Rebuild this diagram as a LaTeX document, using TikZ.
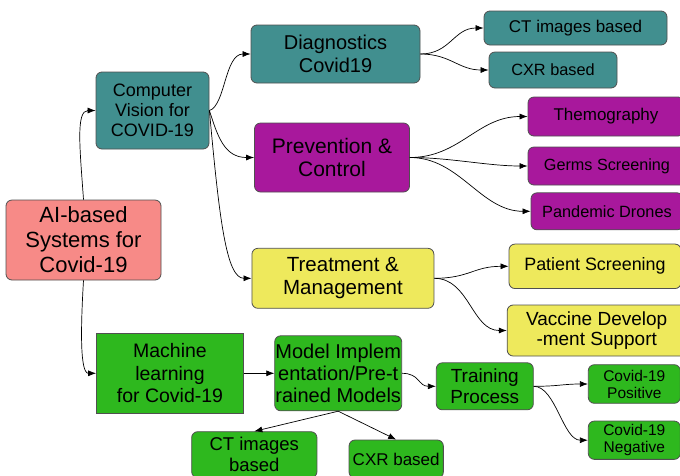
\documentclass[tikz,border=0pt]{standalone}
\usepackage{fontspec}
\setmainfont{Liberation Sans}
\usetikzlibrary{arrows.meta}
\definecolor{teal1}{HTML}{418F8F}
\definecolor{purp1}{HTML}{A8189C}
\definecolor{yell1}{HTML}{EEE95C}
\definecolor{gree1}{HTML}{2EB81E}
\definecolor{salm1}{HTML}{F78A87}
\definecolor{bordc}{HTML}{505050}
\tikzset{
  box/.style={draw=bordc, line width=0.8pt, rounded corners=6pt, align=center, inner sep=0pt, text=black},
  sqbox/.style={box, rounded corners=0pt},
  fs/.style 2 args={font=\fontsize{#1}{#2}\selectfont},
  arr/.style={-{Latex[length=8pt,width=6pt]}, line width=0.7pt, black},
}
\begin{document}
\begin{tikzpicture}[x=1pt,y=-1pt]
\useasboundingbox (0,0) rectangle (680,475);
\fill[white] (0,0) rectangle (680,475);
\clip (0,0) rectangle (680,475);

\node[box, fill=salm1, minimum width=155pt, minimum height=80pt, fs={22}{25}] (ai) at (83.5,240) {AI-based\\Systems for\\Covid-19};
\node[box, fill=teal1, minimum width=113pt, minimum height=77pt, fs={18}{20}] (cv) at (152.5,110.5) {Computer\\Vision for\\COVID-19};
\node[box, fill=teal1, minimum width=169pt, minimum height=58pt, fs={20}{22.7}] (diag) at (335.5,54) {Diagnostics\\Covid19};
\node[box, fill=teal1, minimum width=183pt, minimum height=34pt, fs={17}{20}] (ct1) at (575.5,28) {CT images based};
\node[box, fill=teal1, minimum width=128pt, minimum height=36pt, fs={16.3}{20}] (cxr1) at (553,70) {CXR based};
\node[box, fill=purp1, minimum width=155pt, minimum height=69pt, fs={21}{23}] (prev) at (332,157.5) {Prevention \&\\Control};
\node[box, fill=purp1, minimum width=156pt, minimum height=39pt, fs={17}{20}] (themo) at (606,116.5) {Themography};
\node[box, fill=purp1, minimum width=158pt, minimum height=38pt, fs={16.2}{20}] (germs) at (607,166) {Germs Screening};
\node[box, fill=purp1, minimum width=152pt, minimum height=37pt, fs={16.3}{20}] (pand) at (607,211.3) {Pandemic Drones};
\node[box, fill=yell1, minimum width=182pt, minimum height=60pt, fs={20.5}{23}] (treat) at (342.9,278.3) {Treatment \&\\Management};
\node[box, fill=yell1, minimum width=172pt, minimum height=44.5pt, fs={17.9}{20}] (patient) at (595,266.3) {Patient Screening};
\node[box, fill=yell1, minimum width=179pt, minimum height=51pt, fs={19}{20.5}] (vaccine) at (596.7,330.5) {Vaccine Develop\\-ment Support};
\node[sqbox, fill=gree1, minimum width=147pt, minimum height=80pt, fs={19.5}{22.5}] (ml) at (170,373.3) {Machine\\learning\\for Covid-19};
\node[box, fill=gree1, minimum width=127pt, minimum height=75pt, fs={20}{21.7}] (model) at (338.2,373.3) {Model Implem\\entation/Pre-t\\rained Models};
\node[box, fill=gree1, minimum width=97pt, minimum height=47pt, fs={19}{20.7}] (train) at (484.8,386.3) {Training\\Process};
\node[box, fill=gree1, minimum width=92pt, minimum height=38.6pt, fs={15.5}{17}] (pos) at (634.3,384) {Covid-19\\Positive};
\node[box, fill=gree1, minimum width=92pt, minimum height=38.3pt, fs={15.5}{17}] (neg) at (634.3,440.2) {Covid-19\\Negative};
\node[box, fill=gree1, minimum width=125.3pt, minimum height=46pt, fs={18.5}{21}] (ct2) at (254.3,454.7) {CT images\\based};
\node[box, fill=gree1, minimum width=94.3pt, minimum height=38pt, fs={17}{20}] (cxr2) at (396.2,459) {CXR based};

\draw[arr] (ai.north) .. controls +(-3.5,-50) and +(-20,0) .. (cv.west);
\draw[arr] (ai.south) .. controls +(-3,50) and +(-16,0) .. (ml.west);
\draw[arr] (cv.east) .. controls +(16,-5) and +(-26,0) .. (diag.west);
\draw[arr] (cv.east) .. controls +(8,25) and +(-30,0) .. (prev.west);
\draw[arr] (cv.east) .. controls +(10,110) and +(-25,0) .. (treat.west);
\draw[arr] (diag.east) .. controls +(30,0) and +(-30,0) .. (ct1.west);
\draw[arr] (diag.east) .. controls +(30,0) and +(-30,0) .. (cxr1.west);
\draw[arr] (prev.east) .. controls +(50,0) and +(-50,0) .. (themo.west);
\draw[arr] (prev.east) .. controls +(40,0) and +(-40,0) .. (germs.west);
\draw[arr] (prev.east) .. controls +(50,0) and +(-50,0) .. (pand.west);
\draw[arr] (treat.east) .. controls +(35,0) and +(-35,0) .. (patient.west);
\draw[arr] (treat.east) .. controls +(35,0) and +(-35,0) .. (vaccine.west);
\draw[arr] (ml.east) -- (model.west);
\draw[arr] (model.east) .. controls +(18,0) and +(-18,0) .. (train.west);
\draw[arr] (model.south) -- (ct2.north);
\draw[arr] (model.south) -- (cxr2.north);
\draw[arr] (train.east) .. controls +(25,0) and +(-25,0) .. (pos.west);
\draw[arr] (train.east) .. controls +(22,0) and +(-25,0) .. (neg.west);
\end{tikzpicture}
\end{document}
